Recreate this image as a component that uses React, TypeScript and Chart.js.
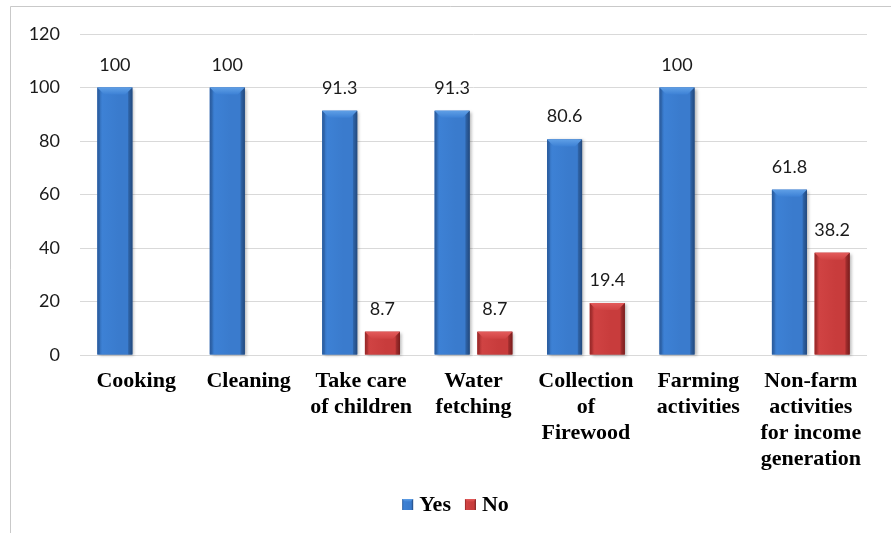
import React, { useEffect, useRef } from "react";
import { Chart, registerables } from "chart.js";

Chart.register(...registerables);

// Activity categories (multi-line axis labels)
const categories: string[][] = [
  ["Cooking"],
  ["Cleaning"],
  ["Take care", "of children"],
  ["Water", "fetching"],
  ["Collection", "of", "Firewood"],
  ["Farming", "activities"],
  ["Non-farm", "activities", "for income", "generation"],
];

// Percent of respondents
const yesValues = [100, 100, 91.3, 91.3, 80.6, 100, 61.8];
const noValues = [0, 0, 8.7, 8.7, 19.4, 0, 38.2];

const seriesNames = ["Yes", "No"];
const yMin = 0;
const yMax = 120;
const yStep = 20;

const palettes = [
  { base: "#3a7acd", edge: "#2d63aa", mid: "#3d81d5", mid2: "#3a7bcd", dark: "#27538f", light: "#5f9fe6" },
  { base: "#c63b3b", edge: "#a52b2b", mid: "#d04343", mid2: "#c83c3c", dark: "#8a2020", light: "#e35b5b" },
];

const numberFont = "Lato, 'Open Sans', 'DejaVu Sans', sans-serif";
const serifFont = "'Liberation Serif', 'Times New Roman', 'DejaVu Serif', serif";

// Light frame around the figure
const framePlugin = {
  id: "frame",
  beforeDraw(chart: any) {
    const { ctx, width, height } = chart;
    ctx.save();
    ctx.fillStyle = "#ffffff";
    ctx.fillRect(0, 0, width, height);
    ctx.strokeStyle = "#c9c9c9";
    ctx.lineWidth = 1;
    ctx.beginPath();
    ctx.moveTo(10.5, height);
    ctx.lineTo(10.5, 6.5);
    ctx.lineTo(width, 6.5);
    ctx.stroke();
    ctx.restore();
  },
};

function drawShadedBox(ctx: CanvasRenderingContext2D, pal: any, l: number, top: number, width: number, h: number, bevel: number, shadow: boolean) {
  const r = l + width;
  const base = top + h;
  ctx.save();
  if (shadow) {
    ctx.shadowColor = "rgba(0,0,0,0.28)";
    ctx.shadowBlur = 3;
    ctx.shadowOffsetX = 2;
    ctx.shadowOffsetY = 1;
  }
  const g = ctx.createLinearGradient(l, 0, r, 0);
  g.addColorStop(0, pal.edge);
  g.addColorStop(0.14, pal.mid);
  g.addColorStop(0.6, pal.mid2);
  g.addColorStop(0.86, pal.mid2);
  g.addColorStop(1, pal.dark);
  ctx.fillStyle = g;
  ctx.fillRect(l, top, width, h);
  ctx.restore();

  ctx.save();
  const b = Math.min(bevel, h / 2, width / 4);
  const tg = ctx.createLinearGradient(0, top, 0, top + b);
  tg.addColorStop(0, pal.light);
  tg.addColorStop(1, pal.mid);
  ctx.fillStyle = tg;
  ctx.beginPath();
  ctx.moveTo(l, top);
  ctx.lineTo(r, top);
  ctx.lineTo(r - b, top + b);
  ctx.lineTo(l + b, top + b);
  ctx.closePath();
  ctx.fill();
  ctx.fillStyle = "rgba(0,0,0,0.12)";
  ctx.beginPath();
  ctx.moveTo(r, top);
  ctx.lineTo(r, base);
  ctx.lineTo(r - b * 0.6, base);
  ctx.lineTo(r - b * 0.6, top + b * 0.6);
  ctx.closePath();
  ctx.fill();
  ctx.fillStyle = "rgba(0,0,0,0.08)";
  ctx.beginPath();
  ctx.moveTo(l, top);
  ctx.lineTo(l + b * 0.4, top + b * 0.4);
  ctx.lineTo(l + b * 0.4, base);
  ctx.lineTo(l, base);
  ctx.closePath();
  ctx.fill();
  ctx.restore();
}

// Bevelled, shaded look for each bar
const shadePlugin = {
  id: "shade",
  afterDatasetDraw(chart: any, args: any) {
    const pal = palettes[args.index];
    const ctx = chart.ctx;
    args.meta.data.forEach((el: any) => {
      const { x, y, base, width } = el.getProps(["x", "y", "base", "width"], true);
      const h = base - y;
      if (h <= 0.5) return;
      drawShadedBox(ctx, pal, x - width / 2, y, width, h, 7, true);
    });
  },
};

// Value labels above the bars
const valueLabelPlugin = {
  id: "valueLabels",
  afterDatasetsDraw(chart: any) {
    const ctx = chart.ctx;
    ctx.save();
    ctx.font = `18px ${numberFont}`;
    ctx.fillStyle = "#1a1a1a";
    ctx.textAlign = "center";
    ctx.textBaseline = "alphabetic";
    chart.data.datasets.forEach((ds: any, di: number) => {
      const meta = chart.getDatasetMeta(di);
      meta.data.forEach((el: any, i: number) => {
        const v = ds.data[i];
        if (!v) return;
        ctx.fillText(String(v), el.x, el.y - 17);
      });
    });
    ctx.restore();
  },
};

// Series key below the category labels
const keyPlugin = {
  id: "seriesKey",
  afterDraw(chart: any) {
    const ctx = chart.ctx;
    const box = 11;
    const gapText = 6;
    const gapItem = 14;
    const baseline = 511;
    ctx.save();
    ctx.font = `bold 22px ${serifFont}`;
    const items = chart.data.datasets.map((ds: any) => ({ text: ds.label, w: ctx.measureText(ds.label).width }));
    const total = items.reduce((s: number, it: any) => s + box + gapText + it.w, 0) + gapItem * (items.length - 1);
    let x = chart.width / 2 + 10 - total / 2;
    items.forEach((it: any, i: number) => {
      drawShadedBox(ctx, palettes[i], x, baseline - 12, box, box, 3, false);
      ctx.fillStyle = "#000";
      ctx.textAlign = "left";
      ctx.textBaseline = "alphabetic";
      ctx.fillText(it.text, x + box + gapText, baseline);
      x += box + gapText + it.w + gapItem;
    });
    ctx.restore();
  },
};

export default function App() {
  const canvasRef = useRef<HTMLCanvasElement | null>(null);

  useEffect(() => {
    if (!canvasRef.current) return;
    const chart = new Chart(canvasRef.current, {
      type: "bar",
      data: {
        labels: categories,
        datasets: [
          {
            label: seriesNames[0],
            data: yesValues,
            backgroundColor: palettes[0].base,
            categoryPercentage: 0.76,
            barPercentage: 0.82,
          },
          {
            label: seriesNames[1],
            data: noValues,
            backgroundColor: palettes[1].base,
            categoryPercentage: 0.76,
            barPercentage: 0.82,
          },
        ],
      },
      options: {
        animation: false,
        responsive: true,
        maintainAspectRatio: false,
        layout: { padding: { left: 0, right: 24, top: 34, bottom: 52 } },
        plugins: {
          tooltip: { enabled: false },
          legend: { display: false },
        },
        scales: {
          x: {
            grid: { display: false, drawTicks: false },
            border: { display: false },
            ticks: {
              color: "#000",
              padding: 13,
              maxRotation: 0,
              autoSkip: false,
              font: { family: serifFont, size: 22, weight: "bold", lineHeight: 1.18 },
            },
            afterFit(scale: any) {
              scale.height = 126;
            },
          },
          y: {
            min: yMin,
            max: yMax,
            ticks: {
              stepSize: yStep,
              padding: 20,
              color: "#1a1a1a",
              font: { family: numberFont, size: 18 },
            },
            grid: { color: "#d9d9d9", lineWidth: 1, drawTicks: false },
            border: { display: false },
            afterFit(scale: any) {
              scale.width = 80;
            },
          },
        },
      },
      plugins: [framePlugin, shadePlugin, valueLabelPlugin, keyPlugin],
    } as any);
    return () => chart.destroy();
  }, []);

  return (
    <div style={{ position: "fixed", left: 0, top: 0, width: 891, height: 533, background: "#fff" }}>
      <canvas ref={canvasRef} />
    </div>
  );
}
